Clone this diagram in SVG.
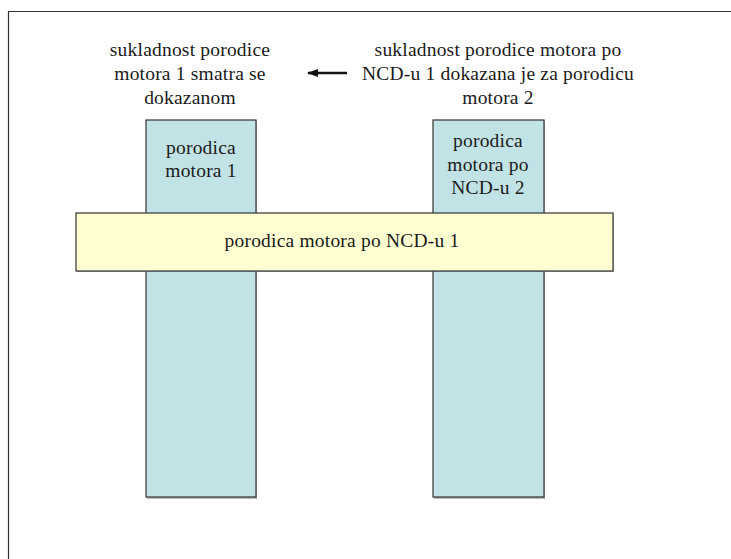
<svg xmlns="http://www.w3.org/2000/svg" width="731" height="559" viewBox="0 0 731 559">
<style>
text{font-family:'Liberation Serif','Times New Roman','DejaVu Serif',serif;font-size:19.5px;letter-spacing:0.2px;fill:#1a1a1a;text-anchor:middle}
.col{fill:#C2E3E6;stroke:#333;stroke-width:1.2}
.bar{fill:#FFFFD2;stroke:#333;stroke-width:1.2}
.sh{fill:#888;opacity:0.6}
</style>
<defs>
<marker id="ah" markerWidth="11" markerHeight="8" refX="10" refY="4" orient="auto" markerUnits="userSpaceOnUse">
<path d="M0,0 L11,4 L0,8 Z" fill="#111"/>
</marker>
</defs>
<rect width="731" height="559" fill="#fff"/>
<path d="M8.5,559 V11.5 H731" fill="none" stroke="#333" stroke-width="1.2"/>
<g id="label-left">
<text x="190" y="56">sukladnost porodice</text>
<text x="190" y="80">motora 1 smatra se</text>
<text x="190" y="104">dokazanom</text>
</g>
<g id="label-right">
<text x="498" y="56">sukladnost porodice motora po</text>
<text x="498" y="80">NCD-u 1 dokazana je za porodicu</text>
<text x="498" y="104">motora 2</text>
</g>
<g id="family1">
<rect class="sh" x="147" y="121" width="110" height="378"/>
<rect class="col" x="146" y="120" width="110" height="377"/>
<text x="201" y="154">porodica</text>
<text x="201" y="177">motora 1</text>
</g>
<g id="family2">
<rect class="sh" x="434" y="121" width="111" height="378"/>
<rect class="col" x="433" y="120" width="111" height="377"/>
<text x="488" y="147">porodica</text>
<text x="488" y="171">motora po</text>
<text x="488" y="194">NCD-u 2</text>
</g>
<g id="ncd1">
<rect class="sh" x="77" y="214" width="537" height="58"/>
<rect class="bar" x="76" y="213" width="537" height="58"/>
<text x="342" y="247">porodica motora po NCD-u 1</text>
</g>
<g id="connectors">
<line x1="347" y1="73" x2="308" y2="73" stroke="#111" stroke-width="2.5" marker-end="url(#ah)"/>
</g>
</svg>
